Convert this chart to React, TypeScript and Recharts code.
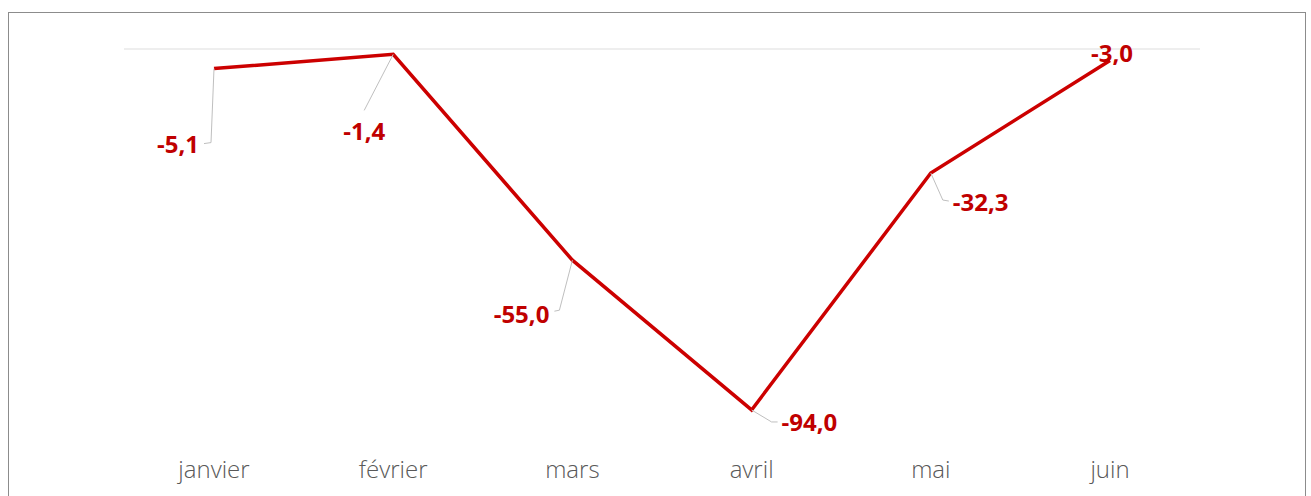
import { LineChart, Line, XAxis, YAxis, ReferenceLine, LabelList } from "recharts";

const months = ["janvier", "février", "mars", "avril", "mai", "juin"];
const values = [-5.1, -1.4, -55.0, -94.0, -32.3, -3.0];

const data = months.map((month, i) => ({ month, value: values[i] }));

const RED = "#c00000";

// label placement relative to each point (excel-style callouts with leader lines)
const callouts = [
  { dx: -15, dy: 75, anchor: "end", leader: [[0, 0], [-3, 74], [-10, 75]] },
  { dx: -29, dy: 76, anchor: "middle", leader: [[0, 0], [-29, 56]] },
  { dx: -23, dy: 53, anchor: "end", leader: [[0, 0], [-13, 50], [-18, 51]] },
  { dx: 30, dy: 12, anchor: "start", leader: [[0, 0], [20, 12], [26, 12]] },
  { dx: 22, dy: 28, anchor: "start", leader: [[0, 0], [12, 27], [18, 28]] },
  { dx: 2, dy: -8, anchor: "middle", leader: null },
];

const fmt = (v: number) => v.toFixed(1).replace(".", ",");

const CalloutLabel = (props: any) => {
  const { x, y, value, index } = props;
  const c = callouts[index];
  if (!c) return null;
  return (
    <g>
      {c.leader && (
        <polyline
          points={c.leader.map(([px, py]) => `${x + px},${y + py}`).join(" ")}
          fill="none"
          stroke="#bfbfbf"
          strokeWidth={1}
        />
      )}
      <text
        x={x + c.dx}
        y={y + c.dy}
        textAnchor={c.anchor}
        dominantBaseline="central"
        fill={RED}
        fontSize={24}
        fontWeight={700}
        fontFamily="'Open Sans', sans-serif"
      >
        {fmt(value)}
      </text>
    </g>
  );
};

const MonthTick = (props: any) => {
  const { x, y, payload } = props;
  return (
    <text
      x={x}
      y={y + 35}
      textAnchor="middle"
      dominantBaseline="central"
      fill="#595959"
      fontSize={24}
      fontWeight={300}
      fontFamily="'Open Sans', sans-serif"
    >
      {payload.value}
    </text>
  );
};

export default function App() {
  return (
    <div
      style={{
        position: "fixed",
        left: 0,
        top: 0,
        width: 1311,
        height: 496,
        overflow: "hidden",
        background: "#fff",
      }}
    >
      <div
        style={{
          position: "absolute",
          left: 8,
          top: 12,
          width: 1298,
          height: 520,
          border: "1px solid #8c8c8c",
          boxSizing: "border-box",
        }}
      />
      <div style={{ position: "absolute", left: 0, top: 0 }}>
        <LineChart
          width={1311}
          height={496}
          data={data}
          margin={{ top: 49, right: 111, left: 124, bottom: 23 }}
        >
          <XAxis
            dataKey="month"
            axisLine={false}
            tickLine={false}
            tickSize={0}
            tickMargin={0}
            height={40}
            interval={0}
            padding={{ left: 90, right: 90 }}
            tick={<MonthTick />}
          />
          <YAxis hide domain={[-100, 0]} />
          <ReferenceLine y={0} stroke="#e8e8e8" strokeWidth={1.5} />
          <Line
            type="linear"
            dataKey="value"
            stroke="#cc0000"
            strokeWidth={3.5}
            dot={false}
            activeDot={false}
            isAnimationActive={false}
          >
            <LabelList dataKey="value" content={<CalloutLabel />} />
          </Line>
        </LineChart>
      </div>
    </div>
  );
}
